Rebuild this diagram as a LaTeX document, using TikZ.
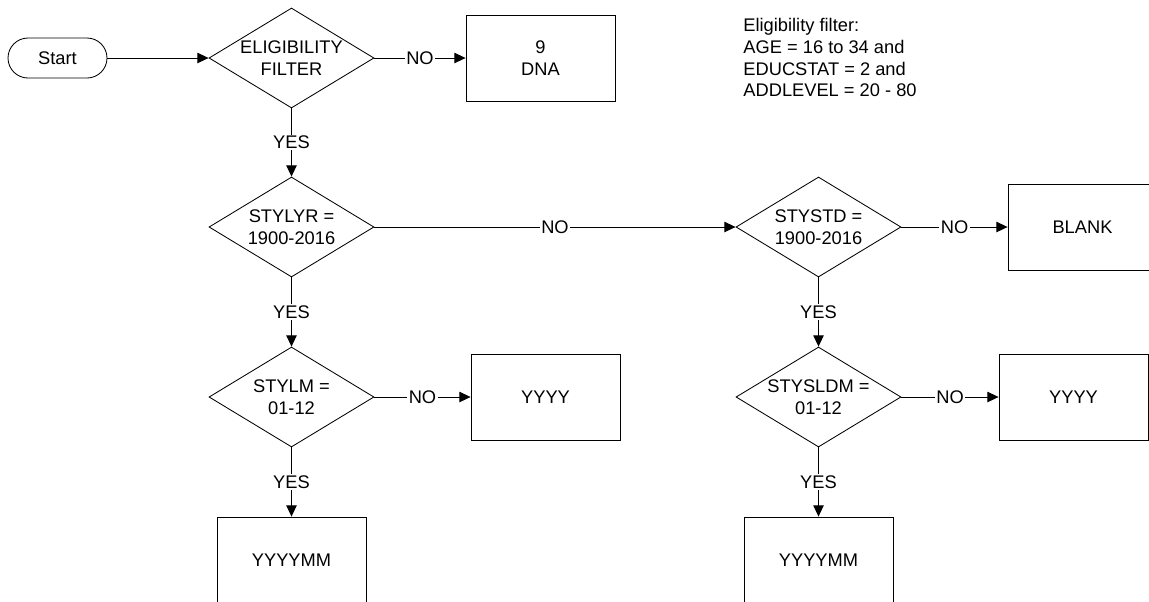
\documentclass[tikz,border=0pt]{standalone}
\usepackage{fontspec}
\setmainfont{Liberation Sans}
\usetikzlibrary{shapes.geometric,arrows.meta}

\tikzset{
  box/.style={draw, rectangle, minimum width=3.725cm, minimum height=2.15cm, inner sep=0pt, align=center},
  decision/.style={draw, diamond, minimum width=4.125cm, minimum height=2.5cm, inner sep=0pt},
  txt/.style={align=center, inner sep=0pt},
  flow/.style={->, >={Triangle[length=0.28cm,width=0.26cm]}},
  lbl/.style={fill=white, inner sep=1pt}
}

\begin{document}
\begin{tikzpicture}[line width=0.6pt, font=\fontsize{13pt}{15.6pt}\selectfont]
\useasboundingbox (0,0) rectangle (28.725,-15.025);
\clip (0,0) rectangle (28.725,-15.025);
\node[draw, rounded corners=0.5cm, minimum width=2.475cm, minimum height=1cm] (start) at (1.4375,-1.45) {Start};
\node[decision, label={[txt]center:ELIGIBILITY\\FILTER}] (elig) at (7.2875,-1.45) {};
\node[box] (dna) at (13.5125,-1.45) {9\\DNA};
\node[anchor=west, align=left, inner sep=0pt] (note) at (18.575,-1.4375) {Eligibility filter:\\AGE = 16 to 34 and\\EDUCSTAT = 2 and\\ADDLEVEL = 20 - 80};
% year of leaving
\node[decision, label={[txt]center:STYLYR =\\1900-2016}] (stylyr) at (7.2875,-5.675) {};
\node[decision, label={[txt]center:STYSTD =\\1900-2016}] (stystd) at (20.4625,-5.675) {};
\node[box] (blank) at (27.0625,-5.675) {BLANK};
% month of leaving
\node[decision, label={[txt]center:STYLM =\\01-12}] (stylm) at (7.2875,-9.925) {};
\node[box] (yyyyl) at (13.6375,-9.925) {YYYY};
\node[decision, label={[txt]center:STYSLDM =\\01-12}] (stysldm) at (20.4625,-9.925) {};
\node[box] (yyyyr) at (26.8375,-9.925) {YYYY};
\node[box] (ymml) at (7.2875,-14.0) {YYYYMM};
\node[box] (ymmr) at (20.4625,-14.0) {YYYYMM};
\draw[flow] (start.east) -- (elig.west);
\draw[flow] (elig.east) -- node[lbl] {NO} (dna.west);
\draw[flow] (elig.south) -- node[lbl] {YES} (stylyr.north);
\draw[flow] (stylyr.east) -- node[lbl] {NO} (stystd.west);
\draw[flow] (stystd.east) -- node[lbl] {NO} (blank.west);
\draw[flow] (stylyr.south) -- node[lbl] {YES} (stylm.north);
\draw[flow] (stystd.south) -- node[lbl] {YES} (stysldm.north);
\draw[flow] (stylm.east) -- node[lbl] {NO} (yyyyl.west);
\draw[flow] (stysldm.east) -- node[lbl] {NO} (yyyyr.west);
\draw[flow] (stylm.south) -- node[lbl] {YES} (ymml.north);
\draw[flow] (stysldm.south) -- node[lbl] {YES} (ymmr.north);
\end{tikzpicture}
\end{document}
